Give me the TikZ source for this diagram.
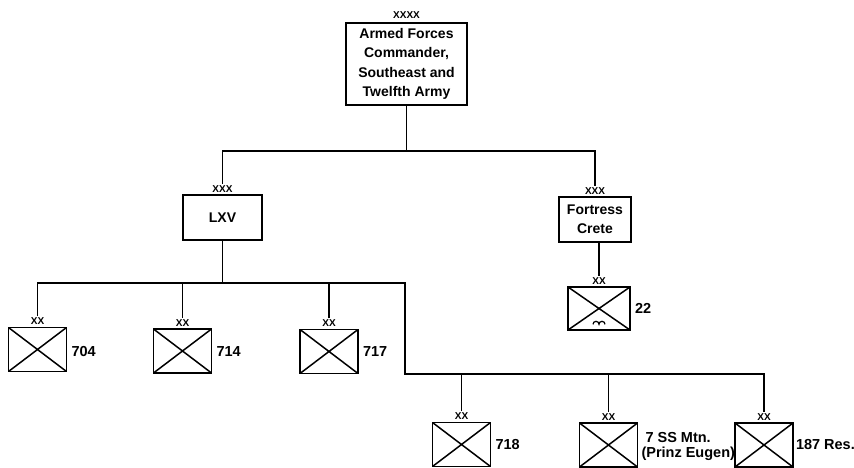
\documentclass[tikz,border=0pt]{standalone}
\usepackage{fontspec}
\setmainfont{Liberation Sans}
\usetikzlibrary{positioning}

\tikzset{
  hq/.style={draw, line width=1.6pt, align=center, inner sep=2pt,
    font=\fontsize{14}{19.5}\selectfont\bfseries},
  div/.style={draw, line width=1.6pt, minimum width=58pt, minimum height=44pt, inner sep=0pt,
    path picture={\draw[line width=1.5pt]
      (path picture bounding box.north west) -- (path picture bounding box.south east)
      (path picture bounding box.south west) -- (path picture bounding box.north east);}},
  echelon/.style={font=\fontsize{10}{10}\selectfont\bfseries, inner sep=1pt},
  num/.style={font=\fontsize{14.5}{15}\selectfont\bfseries, align=left, inner sep=1pt},
  link/.style={line width=1.6pt}
}

\begin{document}
\begin{tikzpicture}[x=1pt, y=-1pt]
			\useasboundingbox (0,0) rectangle (854,468);
			% army level
			\node[hq, minimum width=121pt, minimum height=82pt] (afc) at (406.5,64)
			{Armed Forces\\Commander,\\Southeast and\\Twelfth Army};
			\node[echelon, above=2pt of afc] (xafc) {XXXX};
			% corps level
			\node[hq, minimum width=79pt, minimum height=45pt] (lxv) at (222.5,217.5) {LXV};
			\node[echelon, above=1pt of lxv] (xlxv) {XXX};
			\node[hq, minimum width=72pt, minimum height=45pt] (crete) at (595,219.5) {Fortress\\Crete};
			\node[echelon, above=1pt of crete] (xcrete) {XXX};
			% divisions
			\node[div] (d704) at (37.5,349.5) {};
			\node[div] (d714) at (182.5,351) {};
			\node[div] (d717) at (329,351.5) {};
			\node[div] (d718) at (461.5,444.5) {};
			\node[div] (d7) at (608.5,445) {};
			\node[div] (d187) at (764,445) {};
			\node[div, minimum width=62pt, minimum height=43pt] (d22) at (599,308.5) {};
			\draw[line width=1.2pt] (d22.south) ++(-6,-6.5)
			arc[start angle=180, end angle=360, radius=3]
			arc[start angle=180, end angle=360, radius=3];
			\foreach \d in {704,714,717,718,7,187,22}
			\node[echelon, above=1pt of d\d] (x\d) {XX};
			% unit numbers
			\node[num, right=3pt of d704, yshift=-2pt] (l704) {704};
			\node[num, right=3pt of d714, yshift=-1pt] (l714) {714};
			\node[num, right=3pt of d717] (l717) {717};
			\node[num, right=3pt of d718] (l718) {718};
			\node[num, right=2pt of d7, yshift=-1pt] (l7) {\hspace*{4pt}7 SS Mtn.\\(Prinz Eugen)};
			\node[num, right=1pt of d187] (l187) {187 Res.};
			\node[num, right=3pt of d22] (l22) {22};
			% connectors
			\coordinate (top) at (406.5,151);
			\draw[link] (afc.south) -- (top);
			\draw[link] (xlxv.north) |- (top) -| (xcrete.north);
			\draw[link] (x22.north) -- (x22.north |- crete.south);
			\coordinate (c1) at (405,283);
			\coordinate (c2) at (405,374);
			\draw[link] (lxv.south) -- (lxv.south |- c1);
			\draw[link] (x704.north) |- (c1) -- (c2) -| (x187.north);
			\foreach \d in {714,717}
			\draw[link] (x\d.north) -- (x\d.north |- c1);
			\foreach \d in {718,7}
			\draw[link] (x\d.north) -- (x\d.north |- c2);
\end{tikzpicture}
\end{document}
